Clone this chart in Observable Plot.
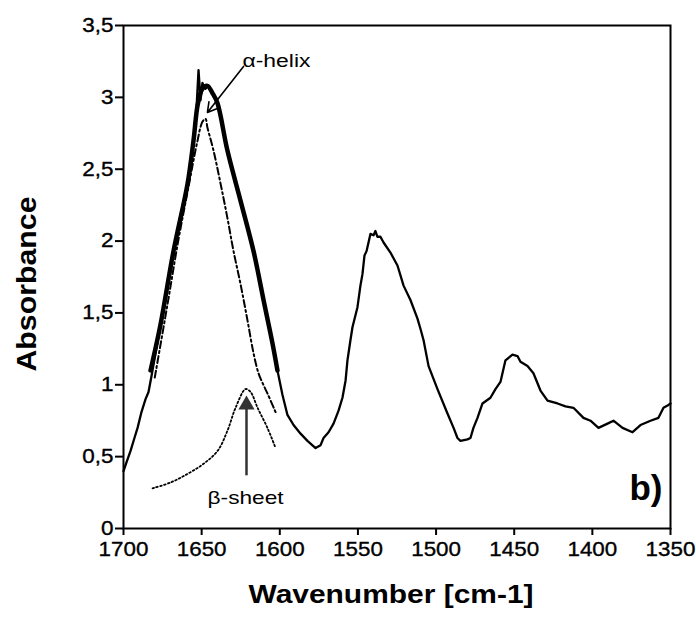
<!DOCTYPE html>
<html><head><meta charset="utf-8">
<script src="https://cdn.jsdelivr.net/npm/d3@7"></script>
<script src="https://cdn.jsdelivr.net/npm/@observablehq/plot@0.6"></script>
<style>html,body{margin:0;padding:0;background:#fff}svg{display:block}</style>
</head><body><div id="chart"></div>
<script>
// Measured spectrum (wavenumber, absorbance)
const specWn = [1700.0,1698.1,1695.5,1693.0,1691.0,1688.5,1685.9,1684.0,1682.1,1679.5,
1676.3,1671.8,1668.0,1663.5,1659.0,1655.2,1653.3,1652.0,1650.7,1649.5,
1647.5,1645.6,1643.1,1639.9,1633.5,1625.1,1616.8,1610.4,1604.7,1601.5,
1598.3,1595.1,1591.2,1586.7,1582.3,1577.1,1573.9,1572.0,1568.8,1565.6,
1562.4,1559.9,1557.9,1556.7,1554.8,1553.5,1550.3,1548.4,1547.1,1545.8,
1544.5,1542.0,1540.0,1538.8,1537.5,1535.6,1533.6,1529.2,1524.7,1520.8,
1516.4,1511.9,1510.0,1508.0,1504.8,1499.1,1492.7,1488.8,1486.3,1484.4,
1479.9,1478.0,1476.1,1473.5,1470.3,1465.2,1462.0,1458.8,1455.6,1451.1,
1447.9,1446.0,1441.5,1437.7,1433.2,1428.7,1422.3,1417.2,1412.1,1405.7,
1401.2,1396.1,1390.3,1386.5,1380.7,1374.3,1369.2,1362.8,1357.7,1354.5,
1351.3,1350.0];
const specAbs = [0.40,0.46,0.54,0.63,0.70,0.81,0.90,0.95,1.06,1.22,
1.42,1.68,1.93,2.18,2.40,2.70,2.92,3.19,2.98,3.10,
3.06,3.08,3.03,2.96,2.63,2.28,1.93,1.59,1.29,1.10,
0.93,0.79,0.72,0.66,0.61,0.56,0.58,0.63,0.67,0.73,
0.82,0.91,1.03,1.17,1.31,1.40,1.54,1.69,1.77,1.90,
1.93,2.05,2.04,2.07,2.03,2.03,1.99,1.92,1.83,1.69,
1.59,1.46,1.39,1.31,1.13,0.97,0.80,0.70,0.63,0.61,
0.62,0.63,0.70,0.77,0.87,0.91,0.97,1.02,1.17,1.21,
1.20,1.16,1.13,1.08,0.96,0.89,0.87,0.85,0.84,0.77,
0.75,0.70,0.73,0.75,0.70,0.67,0.72,0.75,0.77,0.84,
0.86,0.87];

// Fitted envelope (thick line)
const envWn  = [1682.7,1676.3,1668.0,1659.0,1655.2,1652.5,1649.5,1646.3,1643.1,1639.9,1633.5,1625.1,1616.8,1610.4,1604.7,1601.5];
const envAbs = [1.10,1.42,1.93,2.40,2.70,2.95,3.06,3.08,3.03,2.96,2.63,2.28,1.93,1.59,1.29,1.10];

// alpha-helix component (dash-dot)
const alphaWn  = [1680,1672,1665,1658,1653,1649.5,1647.5,1646.3,1642.4,1637.9,1633.5,1629.6,1625.1,1620.7,1616.8,1613.6,1610.5,1607.9,1602.7];
const alphaAbs = [1.05,1.55,2.0,2.4,2.68,2.83,2.85,2.79,2.63,2.40,2.16,1.93,1.70,1.45,1.22,1.08,1.00,0.94,0.81];

// beta-sheet component (dotted)
const betaWn  = [1681.4,1669.9,1659.0,1648.8,1639.8,1633.5,1628.3,1621.9,1618.7,1614.2,1607.9,1602.7];
const betaAbs = [0.28,0.32,0.38,0.45,0.54,0.68,0.84,0.97,0.95,0.84,0.70,0.56];

// axis ticks
const xTicks = [1700,1650,1600,1550,1500,1450,1400,1350];
const yTicks = [0,0.5,1,1.5,2,2.5,3,3.5];

// annotations (data units)
const labelText = ["α-helix","β-sheet","b)"];
const labelWn   = [1623.9,1621.9,1355.1];
const labelAbs  = [3.21,0.17,0.195];
const alphaArrowFrom = [1623.2,3.215];
const alphaArrowTo   = [1646.3,2.895];
const betaArrowFrom  = [1621.3,0.37];
const betaArrowTo    = [1621.3,0.86];

const zip = (a,b) => a.map((v,i) => ({x:v, y:b[i]}));
const spec = zip(specWn, specAbs);
const env = zip(envWn, envAbs);
const alpha = zip(alphaWn, alphaAbs);
const beta = zip(betaWn, betaAbs);
const labels = labelText.map((t,i) => ({t, x:labelWn[i], y:labelAbs[i]}));

const chart = Plot.plot({
  width: 696, height: 621,
  marginLeft: 123, marginRight: 26, marginTop: 25, marginBottom: 93,
  style: {fontFamily: "'Liberation Sans', Arial, sans-serif", fontSize: "20px", color: "black", background: "white"},
  x: {domain: [1700,1350]},
  y: {domain: [0,3.5]},
  marks: [
    Plot.axisY({ticks: yTicks, tickSize: 8, tickPadding: 2, strokeWidth: 2, label: null,
      tickFormat: d => String(d).replace(".", ","), fontSize: 20}),
    Plot.axisX({ticks: xTicks, tickSize: 7, tickPadding: 6, strokeWidth: 2, label: null,
      tickFormat: d => String(d), fontSize: 20}),
    Plot.frame({strokeWidth: 2}),
    Plot.line(beta, {x:"x", y:"y", curve:"catmull-rom", strokeWidth: 1.8, strokeDasharray: "1.6,2.4"}),
    Plot.line(alpha, {x:"x", y:"y", curve:"catmull-rom", strokeWidth: 2, strokeDasharray: "7,3,2,3"}),
    Plot.line(spec, {x:"x", y:"y", strokeWidth: 2.3}),
    Plot.line(env, {x:"x", y:"y", curve:"catmull-rom", strokeWidth: 4.5}),
    Plot.arrow([0], {x1: () => alphaArrowFrom[0], y1: () => alphaArrowFrom[1], x2: () => alphaArrowTo[0], y2: () => alphaArrowTo[1],
      stroke: "black", strokeWidth: 1.6, headLength: 10}),
    Plot.link([0], {x1: () => betaArrowFrom[0], y1: () => betaArrowFrom[1], x2: () => betaArrowTo[0], y2: () => betaArrowTo[1],
      stroke: "#333", strokeWidth: 2.5}),
    Plot.dot([0], {x: () => betaArrowTo[0], y: () => betaArrowTo[1], symbol: "triangle", r: 6, fill: "#333", stroke: "none"}),
    Plot.text(labels.slice(0,1), {x:"x", y:"y", text:"t", textAnchor:"start", lineAnchor:"bottom", fontSize: 18}),
    Plot.text(labels.slice(1,2), {x:"x", y:"y", text:"t", textAnchor:"middle", lineAnchor:"bottom", fontSize: 19}),
    Plot.text(labels.slice(2,3), {x:"x", y:"y", text:"t", textAnchor:"end", lineAnchor:"bottom", fontSize: 35, fontWeight: "bold"}),
    Plot.text(["Absorbance"], {frameAnchor: "left", dx: -96, dy: 7, rotate: -90, textAnchor: "middle", fontSize: 28, fontWeight: "bold"}),
    Plot.text(["Wavenumber [cm-1]"], {frameAnchor: "bottom", dx: -6, dy: 74, textAnchor: "middle", fontSize: 25, fontWeight: "bold"})
  ]
});
document.getElementById("chart").appendChild(chart);
const stretch = {"Absorbance":175, "Wavenumber [cm-1]":285, "α-helix":68, "β-sheet":76};
chart.querySelectorAll("text").forEach(t => {
  const L = stretch[t.textContent];
  if (L) { t.setAttribute("textLength", L); t.setAttribute("lengthAdjust", "spacingAndGlyphs"); }
});
// tick labels in the reference are slightly wider, heavier glyphs
chart.querySelectorAll('g[aria-label="y-axis tick label"] text, g[aria-label="x-axis tick label"] text').forEach(t => {
  const w = t.getComputedTextLength();
  if (w > 0) { t.setAttribute("textLength", (w * 1.12).toFixed(1)); t.setAttribute("lengthAdjust", "spacingAndGlyphs"); }
  t.setAttribute("stroke", "black"); t.setAttribute("stroke-width", "0.35");
});
</script>
</body></html>
